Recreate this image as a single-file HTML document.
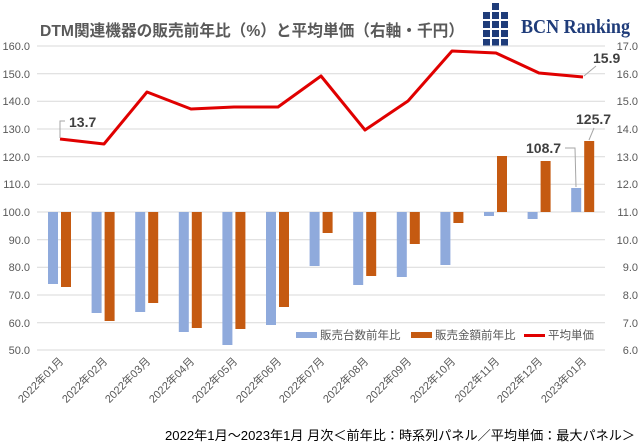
<!DOCTYPE html>
<html><head><meta charset="utf-8"><style>
html,body{margin:0;padding:0;background:#fff;}
svg{display:block;font-family:"Liberation Sans","Noto Sans CJK JP",sans-serif;}
</style></head><body>
<svg width="642" height="448" viewBox="0 0 642 448" xmlns="http://www.w3.org/2000/svg">
<rect width="642" height="448" fill="#fff"/>
<text x="40" y="36" font-size="16" font-weight="bold" fill="#595959" textLength="424" lengthAdjust="spacingAndGlyphs">DTM関連機器の販売前年比（%）と平均単価（右軸・千円）</text>
<g fill="#1f3c7a">
<rect x="492" y="3" width="7" height="7"/>
<rect x="483" y="12" width="7" height="7"/><rect x="492" y="12" width="7" height="7"/><rect x="501" y="12" width="7" height="7"/>
<rect x="483" y="21" width="7" height="7"/><rect x="492" y="21" width="7" height="7"/><rect x="501" y="21" width="7" height="7"/>
<rect x="483" y="30" width="7" height="7"/><rect x="492" y="30" width="7" height="7"/><rect x="501" y="30" width="7" height="7"/>
<rect x="483" y="39" width="7" height="7"/><rect x="492" y="39" width="7" height="7"/><rect x="501" y="39" width="7" height="7"/>
</g>
<text x="521" y="33" font-family="Liberation Serif,serif" font-size="20" font-weight="bold" fill="#1f3c7a" textLength="109" lengthAdjust="spacingAndGlyphs">BCN Ranking</text>
<g stroke="#d9d9d9" stroke-width="1">
<line x1="37" x2="605" y1="46" y2="46"/><line x1="37" x2="605" y1="73.7" y2="73.7"/><line x1="37" x2="605" y1="101.3" y2="101.3"/><line x1="37" x2="605" y1="129" y2="129"/><line x1="37" x2="605" y1="156.7" y2="156.7"/><line x1="37" x2="605" y1="184.3" y2="184.3"/><line x1="37" x2="605" y1="212" y2="212"/><line x1="37" x2="605" y1="239.7" y2="239.7"/><line x1="37" x2="605" y1="267.3" y2="267.3"/><line x1="37" x2="605" y1="295" y2="295"/><line x1="37" x2="605" y1="322.7" y2="322.7"/><line x1="37" x2="605" y1="350" y2="350"/>
</g>
<g font-size="11" fill="#595959" text-anchor="end">
<text x="30" y="50">160.0</text><text x="30" y="78">150.0</text><text x="30" y="105">140.0</text><text x="30" y="133">130.0</text><text x="30" y="161">120.0</text><text x="30" y="188">110.0</text><text x="30" y="216">100.0</text><text x="30" y="244">90.0</text><text x="30" y="271">80.0</text><text x="30" y="299">70.0</text><text x="30" y="327">60.0</text><text x="30" y="354">50.0</text>
</g>
<g font-size="11" fill="#595959" text-anchor="end">
<text x="638" y="50">17.0</text><text x="638" y="78">16.0</text><text x="638" y="105">15.0</text><text x="638" y="133">14.0</text><text x="638" y="161">13.0</text><text x="638" y="188">12.0</text><text x="638" y="216">11.0</text><text x="638" y="244">10.0</text><text x="638" y="271">9.0</text><text x="638" y="299">8.0</text><text x="638" y="327">7.0</text><text x="638" y="354">6.0</text>
</g>
<g fill="#8faadc">
<rect x="48" y="212" width="10" height="72"/>
<rect x="91.6" y="212" width="10" height="101"/>
<rect x="135.2" y="212" width="10" height="100"/>
<rect x="178.8" y="212" width="10" height="120"/>
<rect x="222.4" y="212" width="10" height="133"/>
<rect x="266" y="212" width="10" height="113"/>
<rect x="309.6" y="212" width="10" height="54"/>
<rect x="353.2" y="212" width="10" height="73"/>
<rect x="396.8" y="212" width="10" height="65"/>
<rect x="440.4" y="212" width="10" height="53"/>
<rect x="484" y="212" width="10" height="4"/>
<rect x="527.6" y="212" width="10" height="7"/>
<rect x="571.2" y="188" width="10" height="24"/>
</g>
<g fill="#c55a11">
<rect x="61" y="212" width="10" height="75"/>
<rect x="104.6" y="212" width="10" height="109"/>
<rect x="148.2" y="212" width="10" height="91"/>
<rect x="191.8" y="212" width="10" height="116"/>
<rect x="235.4" y="212" width="10" height="117"/>
<rect x="279" y="212" width="10" height="95"/>
<rect x="322.6" y="212" width="10" height="21"/>
<rect x="366.2" y="212" width="10" height="64"/>
<rect x="409.8" y="212" width="10" height="32"/>
<rect x="453.4" y="212" width="10" height="11"/>
<rect x="497" y="156" width="10" height="56"/>
<rect x="540.6" y="161" width="10" height="51"/>
<rect x="584.2" y="141" width="10" height="71"/>
</g>
<polyline fill="none" stroke="#e00000" stroke-width="3" stroke-linejoin="round" points="60,139 104,144 147,92 191,109 234,107 278,107 321,76 365,130 408,101 452,51 496,53 539,73 583,77"/>
<g stroke="#a6a6a6" fill="none" stroke-width="1">
<polyline points="60,138 60,121 65,121"/>
<line x1="584" y1="76" x2="596" y2="66"/>
<polyline points="565,148 575,148 576,187"/>
<line x1="589" y1="140" x2="594" y2="128"/>
</g>
<g font-size="14" font-weight="bold" fill="#404040">
<text x="69" y="127">13.7</text>
<text x="593" y="63">15.9</text>
<text x="526" y="153">108.7</text>
<text x="576" y="124">125.7</text>
</g>
<g font-size="11.5" fill="#595959">
<rect x="296" y="332" width="21" height="6" fill="#8faadc"/>
<text x="320" y="339">販売台数前年比</text>
<rect x="411" y="332" width="21" height="6" fill="#c55a11"/>
<text x="435" y="339">販売金額前年比</text>
<rect x="524" y="334" width="21" height="3" fill="#e00000"/>
<text x="548" y="339">平均単価</text>
</g>
<g font-size="11" fill="#595959" text-anchor="end">
<text transform="translate(64,362) rotate(-45)">2022年01月</text>
<text transform="translate(108,362) rotate(-45)">2022年02月</text>
<text transform="translate(151,362) rotate(-45)">2022年03月</text>
<text transform="translate(195,362) rotate(-45)">2022年04月</text>
<text transform="translate(238,362) rotate(-45)">2022年05月</text>
<text transform="translate(282,362) rotate(-45)">2022年06月</text>
<text transform="translate(325,362) rotate(-45)">2022年07月</text>
<text transform="translate(369,362) rotate(-45)">2022年08月</text>
<text transform="translate(412,362) rotate(-45)">2022年09月</text>
<text transform="translate(456,362) rotate(-45)">2022年10月</text>
<text transform="translate(500,362) rotate(-45)">2022年11月</text>
<text transform="translate(543,362) rotate(-45)">2022年12月</text>
<text transform="translate(587,362) rotate(-45)">2023年01月</text>
</g>
<text x="165" y="440" font-size="13" fill="#000" textLength="470" lengthAdjust="spacingAndGlyphs">2022年1月～2023年1月 月次＜前年比：時系列パネル／平均単価：最大パネル＞</text>
</svg>
</body></html>
